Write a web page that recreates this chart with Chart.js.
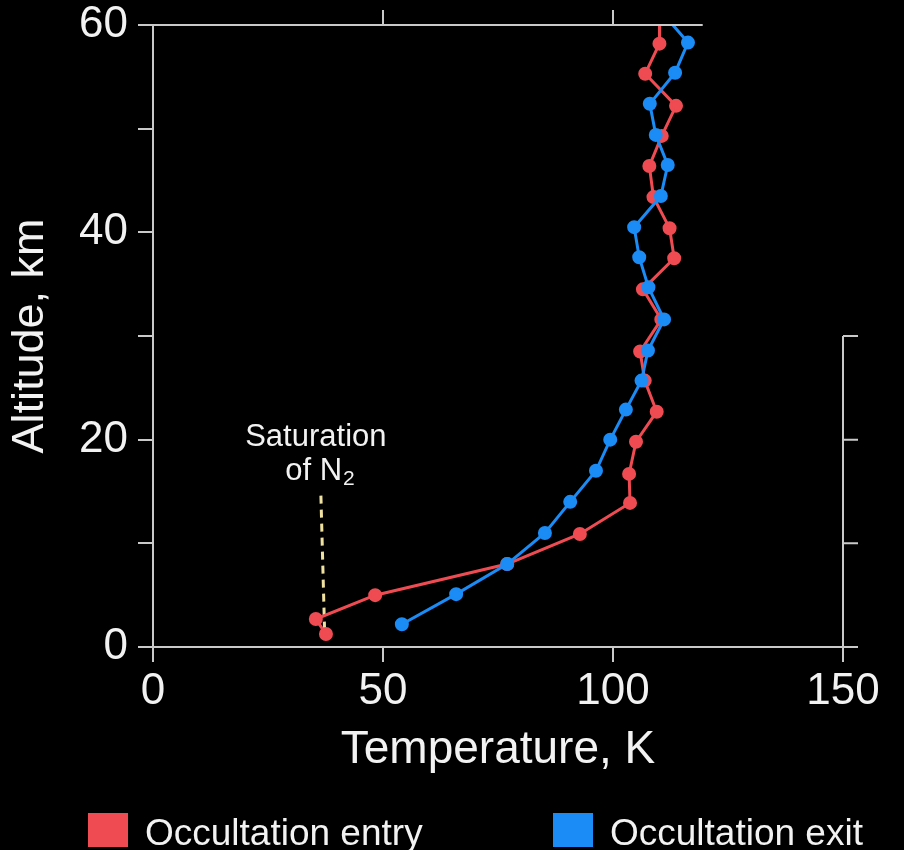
<!DOCTYPE html>
<html>
<head>
<meta charset="utf-8">
<script src="https://cdn.jsdelivr.net/npm/chart.js@4.4.1/dist/chart.umd.min.js"></script>
<style>
  html, body { margin: 0; padding: 0; background: #000; }
  #wrap { width: 904px; height: 850px; position: relative; }
</style>
</head>
<body>
<div id="wrap"><canvas id="chart"></canvas></div>
<script>
// values (temperature in K, altitude in km)
const entryTemp = [110.2, 110.1, 107.0, 113.7, 110.6, 107.9, 108.8, 112.3, 113.3, 106.5, 110.5, 105.9, 106.9, 109.5, 105.0, 103.5, 103.7, 92.8, 77.0, 48.3, 35.4, 37.6];
const entryAlt = [61.3, 58.2, 55.3, 52.2, 49.3, 46.4, 43.4, 40.4, 37.5, 34.5, 31.6, 28.5, 25.7, 22.7, 19.8, 16.7, 13.9, 10.9, 8.0, 5.0, 2.7, 1.25];
const exitTemp = [110.5, 116.3, 113.5, 108.0, 109.3, 111.9, 110.4, 104.6, 105.7, 107.7, 111.1, 107.6, 106.2, 102.8, 99.4, 96.3, 90.7, 85.2, 77.0, 65.9, 54.1];
const exitAlt = [61.3, 58.3, 55.4, 52.4, 49.4, 46.5, 43.5, 40.5, 37.6, 34.7, 31.6, 28.6, 25.7, 22.9, 20.0, 17.0, 14.0, 11.0, 8.0, 5.1, 2.2];
const saturationTemp = [36.5, 37.3];
const saturationAlt = [14.6, 1.6];

const seriesNames = ['Occultation entry', 'Occultation exit'];
const tempTicks = [0, 50, 100, 150];
const altTickLabels = [0, 20, 40, 60];
const topTicks = [50, 100];
const rightTicks = [0, 10, 20, 30];

const entryColor = '#ef4b52';
const exitColor = '#1b8cf5';
const axisColor = '#c9c9c9';
const textColor = '#f2f2f2';

const toPoints = (xs, ys) => xs.map((v, i) => ({ x: v, y: ys[i] }));

// draws the partial top/right frame, the N2 note and the legend
const framePlugin = {
  id: 'frame',
  afterDraw(chart) {
    const { ctx, scales: { x, y } } = chart;
    ctx.save();
    ctx.strokeStyle = axisColor;
    ctx.lineWidth = 2;
    ctx.beginPath();
    const yTop = y.getPixelForValue(60);
    ctx.moveTo(x.getPixelForValue(0), yTop);
    ctx.lineTo(x.getPixelForValue(119.5), yTop);
    topTicks.forEach(v => {
      const px = x.getPixelForValue(v);
      ctx.moveTo(px, yTop);
      ctx.lineTo(px, yTop - 15);
    });
    const xr = x.getPixelForValue(150);
    ctx.moveTo(xr, y.getPixelForValue(0));
    ctx.lineTo(xr, y.getPixelForValue(30));
    rightTicks.forEach(v => {
      const py = y.getPixelForValue(v);
      ctx.moveTo(xr, py);
      ctx.lineTo(xr + 15, py);
    });
    ctx.stroke();

    // note
    ctx.fillStyle = textColor;
    ctx.textAlign = 'center';
    ctx.textBaseline = 'middle';
    ctx.font = '31px "Liberation Sans", Arial, sans-serif';
    ctx.fillText('Saturation', x.getPixelForValue(35.4), y.getPixelForValue(20.2));
    const ofY = y.getPixelForValue(16.9);
    const main = 'of N';
    const wMain = ctx.measureText(main).width;
    ctx.font = '21px "Liberation Sans", Arial, sans-serif';
    const wSub = ctx.measureText('2').width;
    const startX = x.getPixelForValue(36.2) - (wMain + wSub) / 2;
    ctx.textAlign = 'left';
    ctx.font = '31px "Liberation Sans", Arial, sans-serif';
    ctx.fillText(main, startX, ofY);
    ctx.font = '21px "Liberation Sans", Arial, sans-serif';
    ctx.fillText('2', startX + wMain + 1, ofY + 7);

    // legend
    const items = [
      { name: seriesNames[0], color: entryColor, x: 88 },
      { name: seriesNames[1], color: exitColor, x: 553 }
    ];
    ctx.font = '37px "Liberation Sans", Arial, sans-serif';
    ctx.textBaseline = 'alphabetic';
    items.forEach(it => {
      ctx.fillStyle = it.color;
      ctx.fillRect(it.x, 813, 40, 34);
      ctx.fillStyle = textColor;
      ctx.fillText(it.name, it.x + 57, 845);
    });
    ctx.restore();
  }
};

new Chart(document.getElementById('chart'), {
  type: 'scatter',
  data: {
    datasets: [
      {
        label: seriesNames[0],
        data: toPoints(entryTemp, entryAlt),
        showLine: true,
        borderColor: entryColor,
        backgroundColor: entryColor,
        borderWidth: 3,
        pointRadius: 5.5,
        order: 2
      },
      {
        label: seriesNames[1],
        data: toPoints(exitTemp, exitAlt),
        showLine: true,
        borderColor: exitColor,
        backgroundColor: exitColor,
        borderWidth: 3,
        pointRadius: 5.5,
        order: 1
      },
      {
        label: 'Saturation of N2',
        data: toPoints(saturationTemp, saturationAlt),
        showLine: true,
        borderColor: '#efe2a0',
        borderWidth: 3,
        borderDash: [8, 6],
        pointRadius: 0,
        order: 3
      }
    ]
  },
  options: {
    responsive: true,
    maintainAspectRatio: false,
    animation: false,
    layout: { padding: { left: 0, top: 25, right: 61, bottom: 70 } },
    plugins: {
      legend: { display: false },
      tooltip: { enabled: false }
    },
    scales: {
      x: {
        type: 'linear',
        min: 0,
        max: 150,
        afterBuildTicks: s => { s.ticks = tempTicks.map(v => ({ value: v })); },
        afterFit: s => { s.height = 133; },
        ticks: {
          color: textColor,
          padding: 3,
          font: { family: '"Liberation Sans", Arial, sans-serif', size: 44 }
        },
        grid: { drawOnChartArea: false, drawTicks: true, tickLength: 15, color: axisColor, lineWidth: 2 },
        border: { display: true, color: axisColor, width: 2 },
        title: {
          display: true,
          text: 'Temperature, K',
          color: textColor,
          padding: { top: 0, bottom: 2 },
          font: { family: '"Liberation Sans", Arial, sans-serif', size: 46 }
        }
      },
      y: {
        min: 0,
        max: 60,
        afterFit: s => { s.width = 153; s.paddingTop = 0; s.paddingBottom = 0; },
        ticks: {
          stepSize: 10,
          color: textColor,
          padding: 10,
          callback: v => altTickLabels.includes(v) ? String(v) : '',
          font: { family: '"Liberation Sans", Arial, sans-serif', size: 44 }
        },
        grid: { drawOnChartArea: false, drawTicks: true, tickLength: 15, color: axisColor, lineWidth: 2 },
        border: { display: true, color: axisColor, width: 2 },
        title: {
          display: true,
          text: 'Altitude, km',
          color: textColor,
          padding: { top: 4, bottom: 0 },
          font: { family: '"Liberation Sans", Arial, sans-serif', size: 45 }
        }
      }
    }
  },
  plugins: [framePlugin]
});
</script>
</body>
</html>
